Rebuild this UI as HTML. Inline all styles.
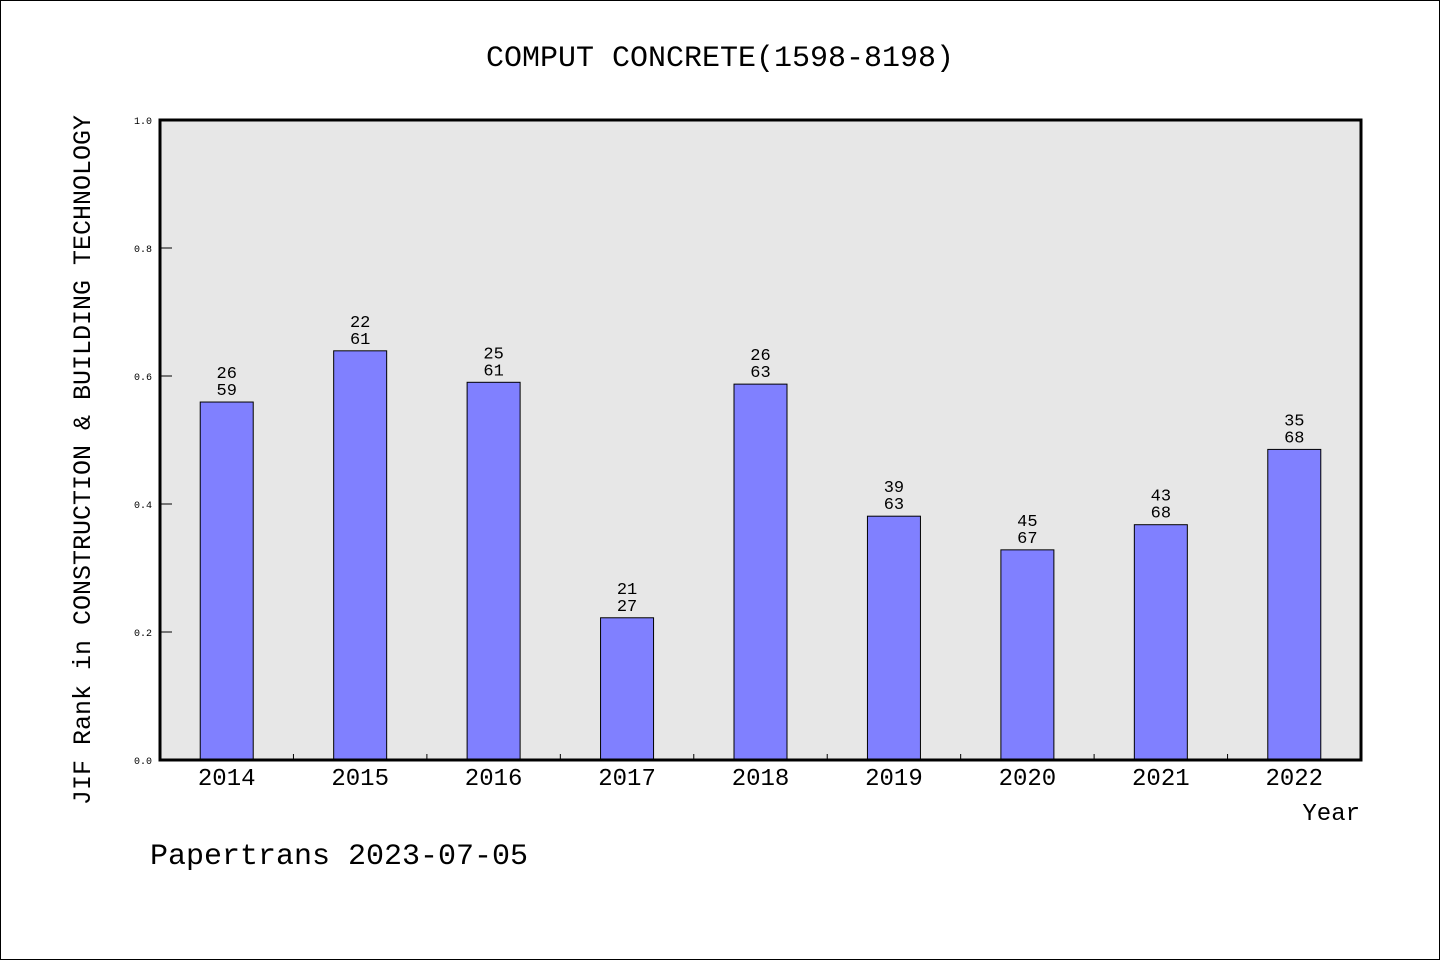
<!DOCTYPE html>
<html><head><meta charset="utf-8"><style>
html,body{margin:0;padding:0;background:#fff}
svg text{font-family:"WenQuanYi Zen Hei","Liberation Mono",monospace;fill:#000}
</style></head><body>
<svg id="chart" width="1440" height="960" xmlns="http://www.w3.org/2000/svg">
<rect x="0.5" y="0.5" width="1439" height="959" fill="#fff" stroke="#000"/>
<text x="720" y="66" font-size="30" text-anchor="middle">COMPUT CONCRETE(1598-8198)</text>
<rect x="160" y="120" width="1201" height="640" fill="#e7e7e7"/>
<g id="bars"></g>
<g id="yaxis"></g>
<g id="xaxis"></g>
<rect x="160" y="120" width="1201" height="640" fill="none" stroke="#000" stroke-width="3"/>
<text x="1360" y="820" font-size="24" text-anchor="end">Year</text>
<text transform="translate(90,460) rotate(-90)" font-size="25" text-anchor="middle">JIF Rank in CONSTRUCTION &amp; BUILDING TECHNOLOGY</text>
<text x="150" y="864" font-size="30">Papertrans 2023-07-05</text>
</svg>
<script>
const years = ["2014","2015","2016","2017","2018","2019","2020","2021","2022"];
const ranks = [26,22,25,21,26,39,45,43,35];
const totals = [59,61,61,27,63,63,67,68,68];
const yTicks = ["0.0","0.2","0.4","0.6","0.8","1.0"];
const NS="http://www.w3.org/2000/svg";
const X0=160,X1=1361,Y0=760,Y1=120;
const band=(X1-X0)/years.length;
const xC=i=>X0+band*(i+0.5);
const yS=v=>Y0-(Y1-Y0)*-1*v;
function mk(t,a,p){const e=document.createElementNS(NS,t);for(const k in a)e.setAttribute(k,a[k]);p.appendChild(e);return e;}
const bars=document.getElementById('bars'),ya=document.getElementById('yaxis'),xa=document.getElementById('xaxis');
years.forEach((yr,i)=>{
  const v=1-ranks[i]/totals[i];
  const y=Y0-(Y0-Y1)*v;
  const r=mk('rect',{x:xC(i)-26.5,y:y,width:53,height:Y0-y,fill:'#8080ff',stroke:'#000','stroke-width':1},bars);
  
  
  const t1=mk('text',{x:xC(i),y:y-24,'font-size':17,'text-anchor':'middle'},bars);t1.textContent=ranks[i];
  
  
  const t2=mk('text',{x:xC(i),y:y-7,'font-size':17,'text-anchor':'middle'},bars);t2.textContent=totals[i];
  
  
  const xl=mk('text',{x:xC(i),y:785,'font-size':24,'text-anchor':'middle'},xa);xl.textContent=yr;
  
  
  if(i>0){const tk=mk('line',{x1:X0+band*i,x2:X0+band*i,y1:Y0,y2:Y0-6,stroke:'#000','stroke-width':1},xa);
  
  }
});
yTicks.forEach(s=>{
  const v=parseFloat(s),y=Y0-(Y0-Y1)*v;
  const l=mk('line',{x1:X0,x2:X0+12,y1:y,y2:y,stroke:'#000','stroke-width':1},ya);
  
  
  const t=mk('text',{x:152,y:y+4,'font-size':10,'text-anchor':'end'},ya);t.textContent=s;
  
  
});
</script>
</body></html>
